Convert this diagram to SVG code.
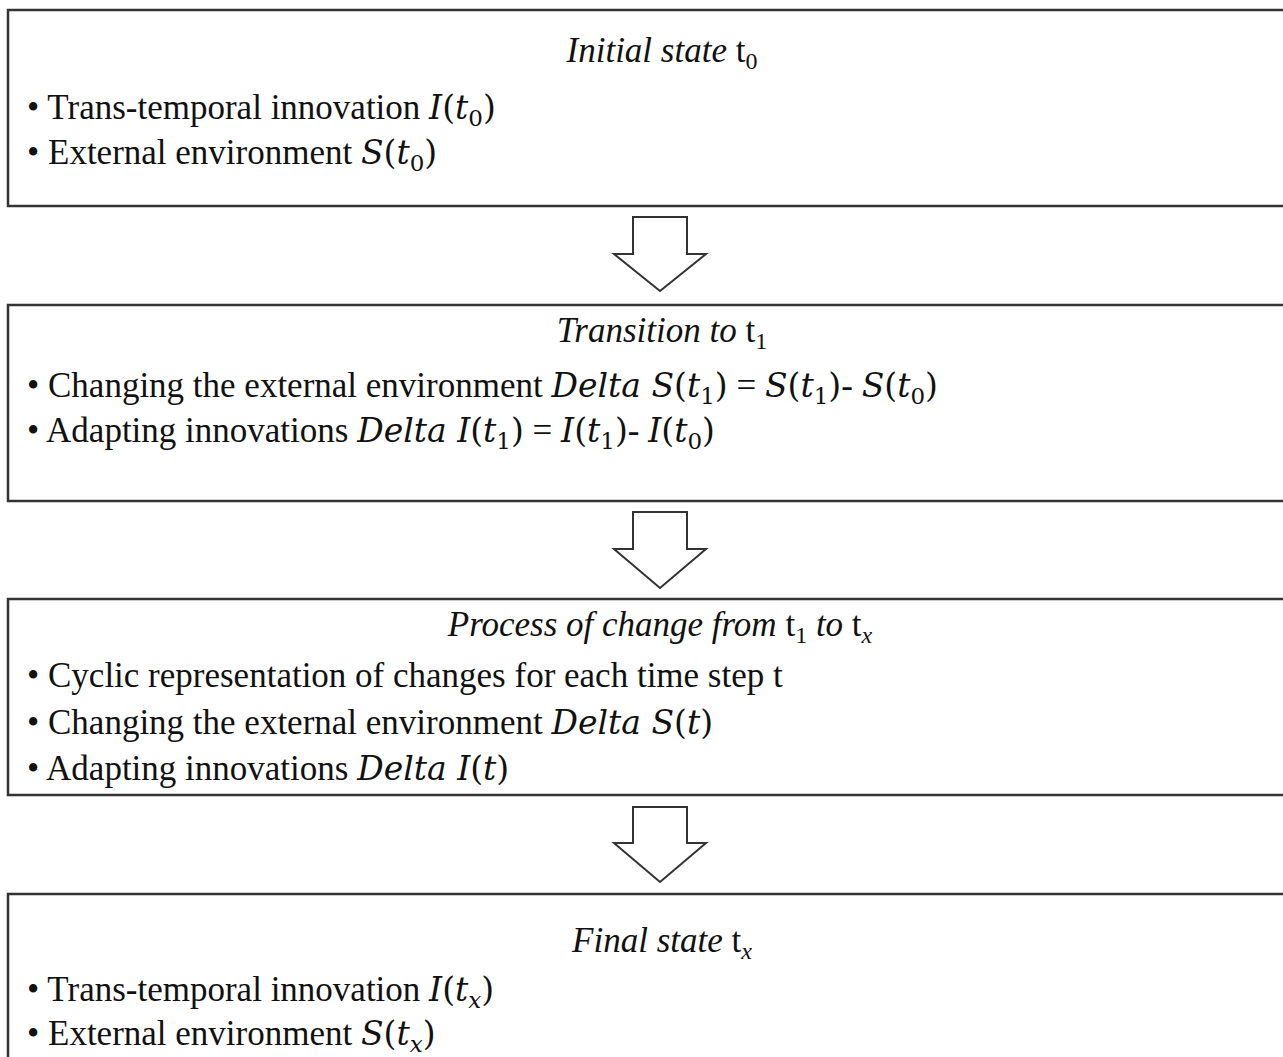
<svg xmlns="http://www.w3.org/2000/svg" width="1283" height="1057" viewBox="0 0 1283 1057">
<style>
.box{fill:#fff;stroke:#333;stroke-width:2.5}
.arr{fill:#fff;stroke:#333;stroke-width:2;stroke-linejoin:miter}
text{font-family:"Liberation Serif","Times New Roman",serif;font-size:35px;fill:#111}
.ttl{font-style:italic;text-anchor:middle}
.m{font-family:"DejaVu Serif","Liberation Serif",serif;font-size:33px;font-style:italic}
.p{font-family:"DejaVu Serif","Liberation Serif",serif;font-size:33px;font-style:normal}
.up{font-style:normal}
.sub{font-size:24px;font-style:normal}
.subi{font-size:24px;font-style:italic}
.ms{font-family:"DejaVu Serif","Liberation Serif",serif;font-size:23px;font-style:normal}
.msi{font-family:"DejaVu Serif","Liberation Serif",serif;font-size:23px;font-style:italic}
</style>
<rect width="1283" height="1057" fill="#fff"/>
<g id="node-initial">
<rect class="box" x="8" y="10" width="1290" height="196"/>
<text class="ttl" x="662" y="62">Initial state <tspan class="up">t</tspan><tspan class="sub" dy="7">0</tspan></text>
<text x="27" y="119">• Trans-temporal innovation <tspan class="m">I</tspan><tspan class="p">(</tspan><tspan class="m">t</tspan><tspan class="ms" dy="7">0</tspan><tspan class="p" dy="-7">)</tspan></text>
<text x="27" y="164">• External environment <tspan class="m">S</tspan><tspan class="p">(</tspan><tspan class="m">t</tspan><tspan class="ms" dy="7">0</tspan><tspan class="p" dy="-7">)</tspan></text>
</g>
<g id="node-transition">
<rect class="box" x="8" y="305" width="1290" height="196"/>
<text class="ttl" x="662" y="342">Transition to <tspan class="up">t</tspan><tspan class="sub" dy="7">1</tspan></text>
<text x="27" y="397">• Changing the external environment <tspan class="m">Delta S</tspan><tspan class="p">(</tspan><tspan class="m">t</tspan><tspan class="ms" dy="7">1</tspan><tspan class="p" dy="-7">)</tspan> = <tspan class="m">S</tspan><tspan class="p">(</tspan><tspan class="m">t</tspan><tspan class="ms" dy="7">1</tspan><tspan class="p" dy="-7">)</tspan>- <tspan class="m">S</tspan><tspan class="p">(</tspan><tspan class="m">t</tspan><tspan class="ms" dy="7">0</tspan><tspan class="p" dy="-7">)</tspan></text>
<text x="27" y="442">• Adapting innovations <tspan class="m">Delta I</tspan><tspan class="p">(</tspan><tspan class="m">t</tspan><tspan class="ms" dy="7">1</tspan><tspan class="p" dy="-7">)</tspan> = <tspan class="m">I</tspan><tspan class="p">(</tspan><tspan class="m">t</tspan><tspan class="ms" dy="7">1</tspan><tspan class="p" dy="-7">)</tspan>- <tspan class="m">I</tspan><tspan class="p">(</tspan><tspan class="m">t</tspan><tspan class="ms" dy="7">0</tspan><tspan class="p" dy="-7">)</tspan></text>
</g>
<g id="node-process">
<rect class="box" x="8" y="599" width="1290" height="196"/>
<text class="ttl" x="660" y="636">Process of change from <tspan class="up">t</tspan><tspan class="sub" dy="7">1</tspan><tspan dy="-7"> to </tspan><tspan class="up">t</tspan><tspan class="subi" dy="7">x</tspan></text>
<text x="27" y="687">• Cyclic representation of changes for each time step t</text>
<text x="27" y="734">• Changing the external environment <tspan class="m">Delta S</tspan><tspan class="p">(</tspan><tspan class="m">t</tspan><tspan class="p">)</tspan></text>
<text x="27" y="780">• Adapting innovations <tspan class="m">Delta I</tspan><tspan class="p">(</tspan><tspan class="m">t</tspan><tspan class="p">)</tspan></text>
</g>
<g id="node-final">
<rect class="box" x="8" y="894" width="1290" height="200"/>
<text class="ttl" x="662" y="952">Final state <tspan class="up">t</tspan><tspan class="subi" dy="7">x</tspan></text>
<text x="27" y="1001">• Trans-temporal innovation <tspan class="m">I</tspan><tspan class="p">(</tspan><tspan class="m">t</tspan><tspan class="msi" dy="7">x</tspan><tspan class="p" dy="-7">)</tspan></text>
<text x="27" y="1045">• External environment <tspan class="m">S</tspan><tspan class="p">(</tspan><tspan class="m">t</tspan><tspan class="msi" dy="7">x</tspan><tspan class="p" dy="-7">)</tspan></text>
</g>
<g id="connectors">
<polygon class="arr" points="633,217 687,217 687,254 706,254 660,291 614,254 633,254"/>
<polygon class="arr" points="633,512 687,512 687,549 706,549 660,588 614,549 633,549"/>
<polygon class="arr" points="633,807 687,807 687,843 706,843 660,882 614,843 633,843"/>
</g>
</svg>
